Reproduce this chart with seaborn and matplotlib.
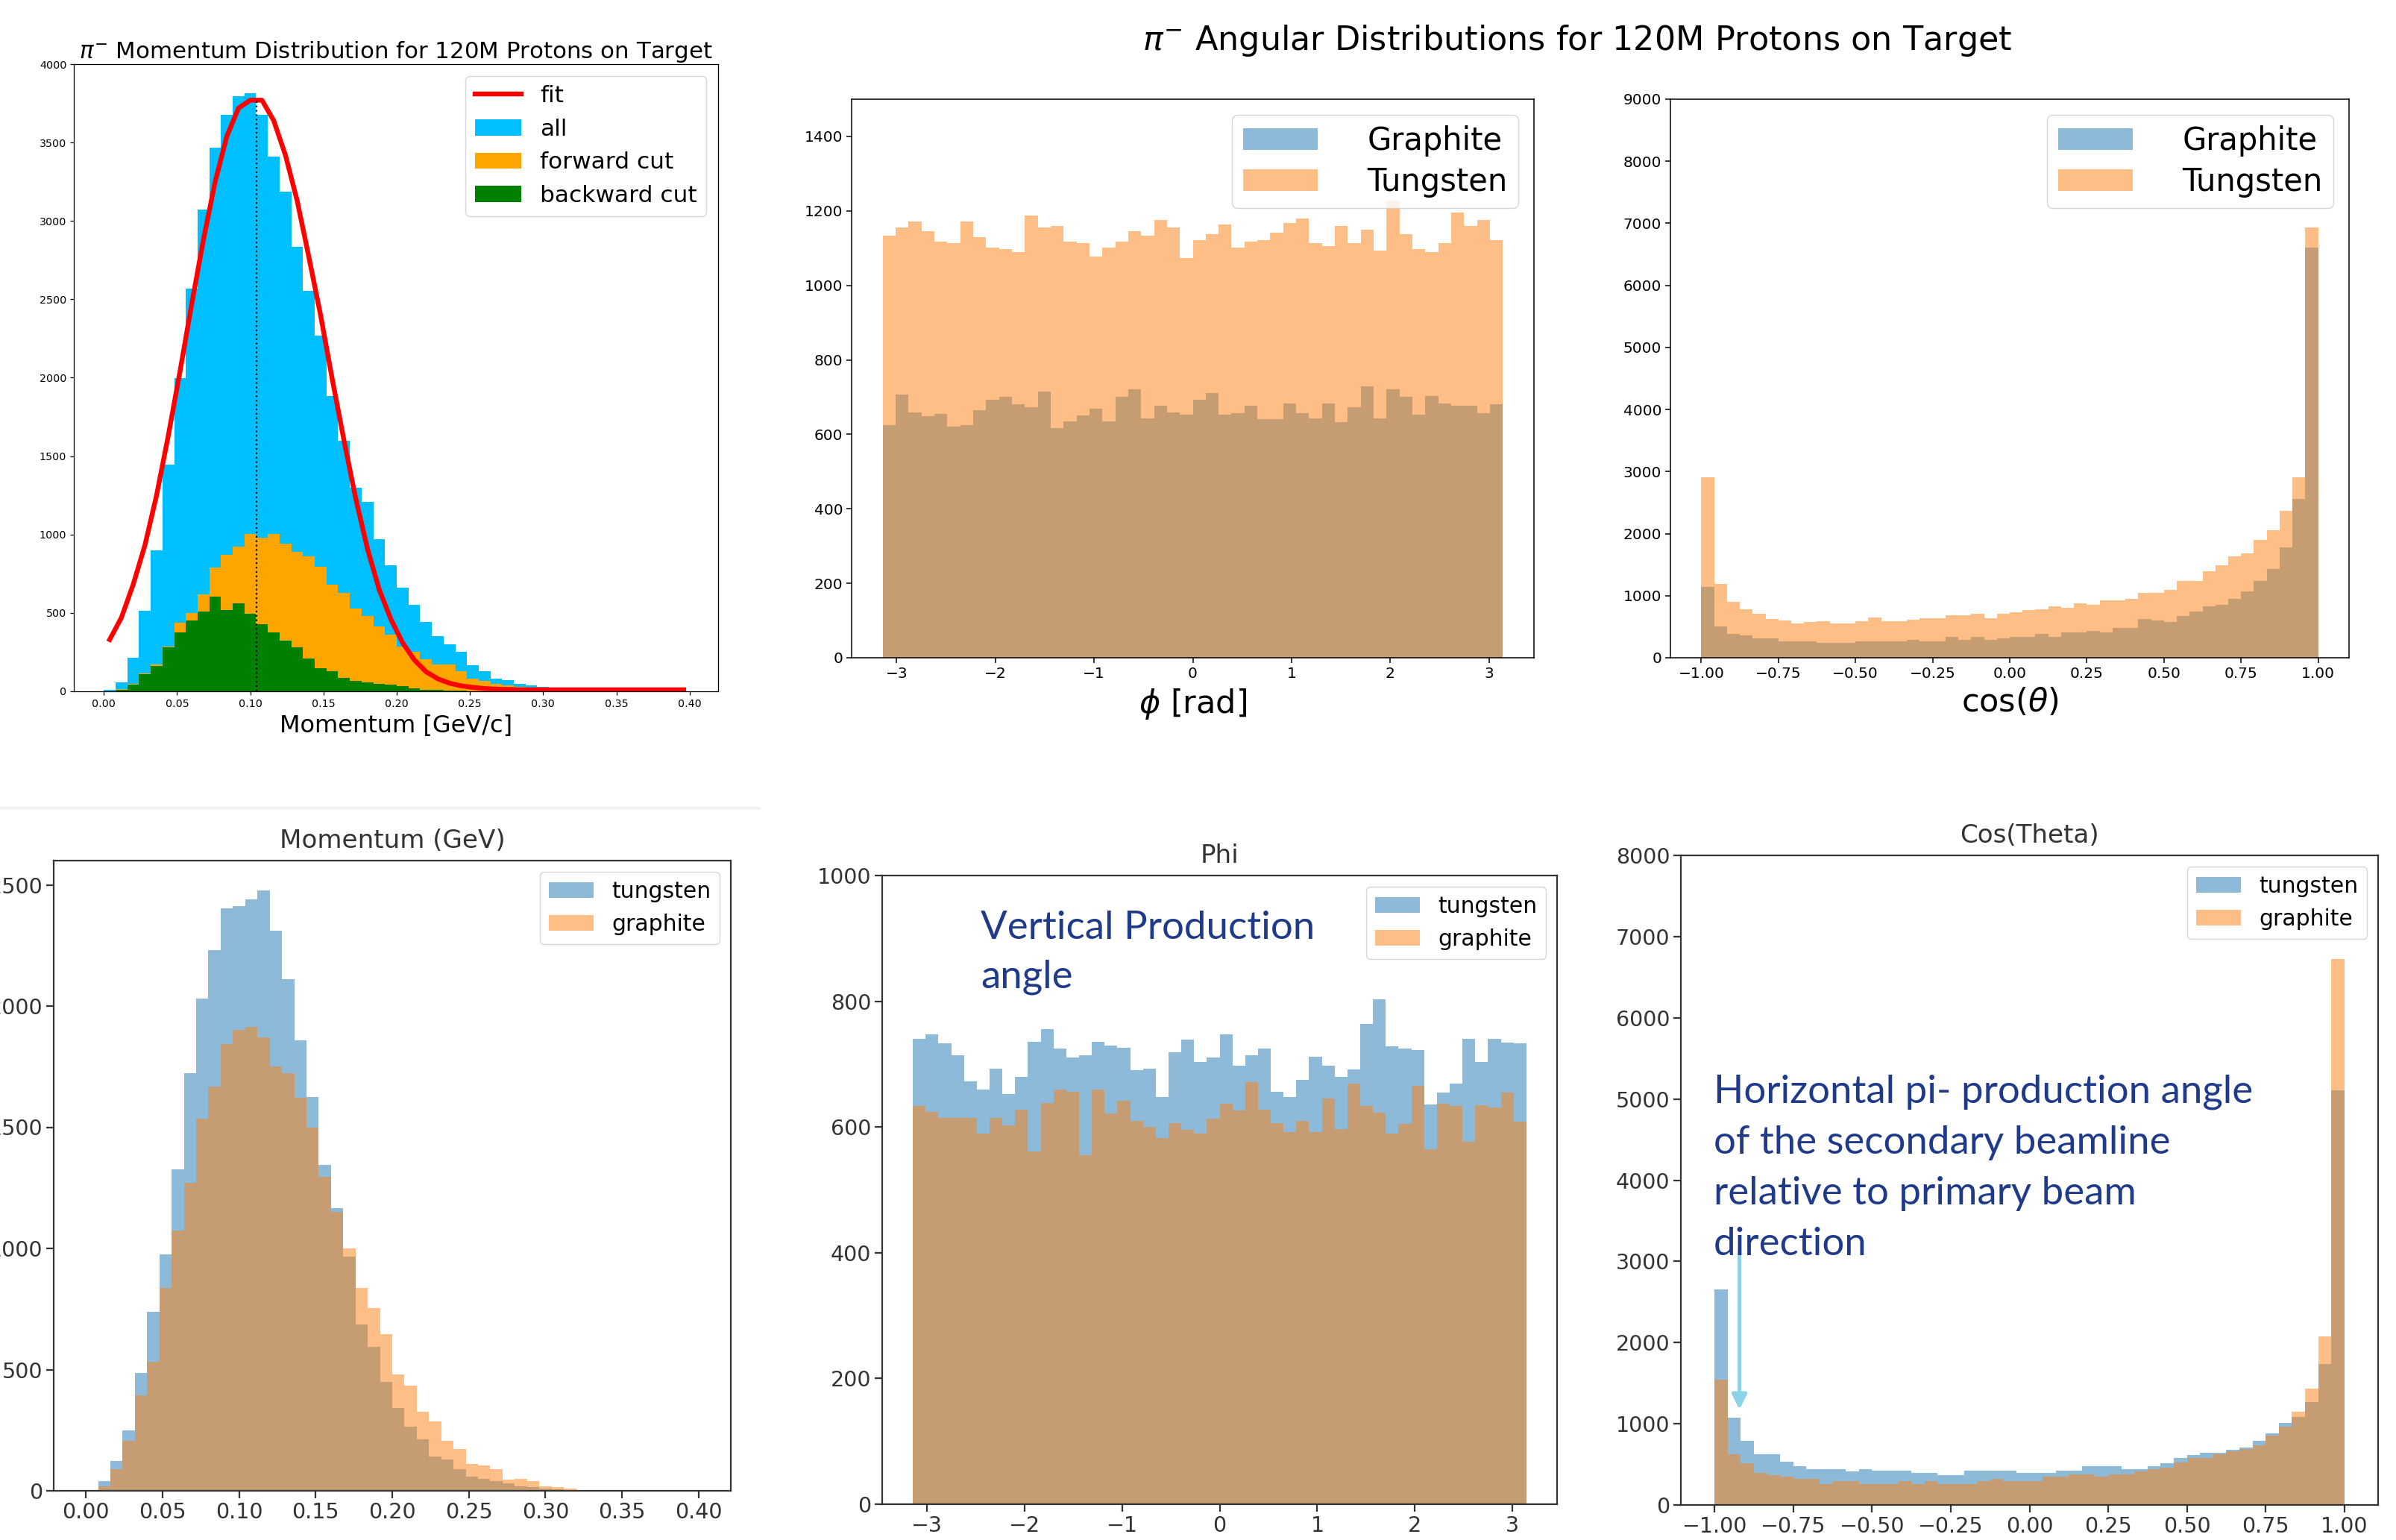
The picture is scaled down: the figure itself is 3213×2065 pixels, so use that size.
import numpy as np
import pandas as pd
import matplotlib
matplotlib.use("Agg")
import matplotlib.pyplot as plt
import seaborn as sns
from matplotlib.lines import Line2D

# ---------------- data (bin counts) ----------------
# Top-left: pi- momentum, 50 bins on [0, 0.4] GeV/c
mom_range = (0.0, 0.4)
mom_all = [10, 55, 215, 516, 898, 1445, 1997, 2570, 3074, 3469, 3678, 3794, 3815, 3678, 3408,
           3187, 2835, 2555, 2270, 1882, 1596, 1299, 1208, 971, 804, 662, 552, 444, 354, 298,
           254, 165, 127, 83, 72, 49, 36, 28, 9, 7, 5, 4, 3, 2, 2, 1, 1, 1, 0, 0]
mom_forward = [0, 15, 48, 115, 171, 285, 436, 501, 619, 790, 871, 921, 1004, 980, 1004, 944,
               891, 863, 796, 679, 627, 527, 481, 414, 363, 283, 254, 203, 171, 171, 127, 83,
               68, 47, 39, 27, 24, 18, 10, 6, 4, 2, 1, 1, 0, 0, 0, 0, 0, 0]
mom_backward = [0, 10, 45, 111, 162, 281, 376, 450, 508, 606, 519, 561, 495, 428, 378, 325,
                281, 211, 148, 127, 87, 68, 55, 47, 41, 32, 19, 11, 8, 5, 3, 2, 1, 1, 0, 0,
                0, 0, 0, 0, 0, 0, 0, 0, 0, 0, 0, 0, 0, 0]
mom_fit = [330, 470, 680, 930, 1250, 1630, 2040, 2470, 2880, 3250, 3540, 3720, 3770, 3770,
           3640, 3420, 3130, 2770, 2400, 1990, 1600, 1230, 910, 650, 460, 310, 200, 125, 80,
           52, 35, 25, 18, 14, 12, 10, 10, 10, 10, 10, 10, 10, 10, 10, 10, 10, 10, 10, 10, 10]
fit_mean = 0.1045
fit_peak = 3770

# Top-middle / top-right: angular distributions, 48 bins
phi_range = (-np.pi, np.pi)
cos_range = (-1.0, 1.0)
top_phi_graphite = [624, 707, 659, 648, 655, 620, 624, 664, 692, 700, 680, 672, 714, 616, 635,
                    650, 668, 635, 700, 720, 643, 676, 659, 652, 692, 710, 652, 656, 676, 640,
                    640, 683, 656, 643, 683, 632, 672, 728, 643, 720, 700, 652, 703, 683, 676,
                    676, 656, 680]
top_phi_tungsten = [1133, 1156, 1172, 1145, 1117, 1113, 1172, 1129, 1101, 1097, 1089, 1188, 1156,
                    1160, 1117, 1113, 1077, 1101, 1117, 1145, 1133, 1176, 1156, 1074, 1121, 1137,
                    1164, 1101, 1117, 1121, 1141, 1168, 1180, 1113, 1105, 1160, 1113, 1149, 1093,
                    1227, 1137, 1097, 1089, 1113, 1195, 1160, 1176, 1121]
top_cos_graphite = [1137, 500, 384, 360, 316, 316, 268, 268, 268, 244, 244, 244, 268, 268, 268,
                    268, 292, 268, 268, 340, 292, 340, 292, 316, 340, 340, 384, 340, 408, 408,
                    432, 408, 480, 480, 621, 597, 573, 669, 741, 833, 857, 949, 1069, 1233, 1425,
                    1778, 2558, 6611]
top_cos_tungsten = [2907, 1185, 905, 785, 713, 625, 597, 552, 573, 593, 552, 552, 593, 645, 593,
                    593, 617, 641, 641, 689, 689, 713, 641, 713, 737, 765, 785, 833, 805, 881,
                    857, 925, 925, 949, 1041, 1041, 1089, 1233, 1233, 1397, 1493, 1637, 1685,
                    1894, 2057, 2366, 2907, 6935]

# Bottom row
bot_mom_tungsten = [0, 39, 124, 250, 487, 739, 975, 1326, 1722, 2031, 2230, 2403, 2411, 2439,
                    2476, 2311, 2112, 1860, 1625, 1344, 1166, 965, 686, 595, 449, 341, 266, 213,
                    142, 128, 89, 59, 49, 39, 30, 20, 14, 10, 6, 3, 0, 0, 0, 0, 0, 0, 0, 0, 0, 0]
bot_mom_graphite = [0, 20, 89, 207, 394, 532, 837, 1074, 1271, 1535, 1669, 1842, 1901, 1913,
                    1870, 1751, 1724, 1623, 1497, 1294, 1152, 999, 837, 753, 646, 479, 433, 325,
                    286, 207, 173, 112, 104, 89, 45, 49, 39, 20, 16, 10, 0, 0, 0, 0, 0, 0, 0, 0,
                    0, 0]
bot_phi_tungsten = [740, 747, 733, 714, 673, 659, 693, 652, 680, 735, 756, 725, 711, 714, 736,
                    730, 726, 690, 693, 648, 719, 739, 703, 711, 747, 697, 714, 725, 656, 648,
                    675, 712, 697, 680, 691, 764, 803, 728, 725, 722, 636, 655, 669, 740, 704,
                    740, 734, 733]
bot_phi_graphite = [634, 624, 614, 614, 614, 590, 614, 603, 627, 561, 638, 659, 656, 555, 659,
                    621, 642, 610, 600, 582, 606, 596, 590, 613, 637, 626, 672, 627, 606, 592,
                    610, 592, 645, 597, 669, 634, 623, 589, 605, 666, 565, 637, 634, 576, 635,
                    631, 655, 609]
bot_cos_tungsten = [2654, 1071, 786, 621, 621, 535, 480, 444, 444, 444, 413, 444, 421, 421, 421,
                    398, 398, 367, 367, 421, 421, 421, 421, 398, 398, 398, 421, 421, 480, 480,
                    480, 444, 444, 474, 511, 581, 615, 645, 645, 680, 707, 789, 884, 1010, 1080,
                    1265, 1736, 5109]
bot_cos_graphite = [1539, 621, 511, 398, 367, 345, 321, 321, 254, 290, 290, 254, 254, 254, 290,
                    254, 290, 254, 254, 254, 290, 321, 290, 290, 290, 345, 345, 376, 376, 345,
                    376, 376, 413, 444, 459, 520, 581, 581, 627, 658, 688, 734, 856, 960, 1150,
                    1430, 2072, 6727]

arrow_x = -0.921
arrow_y_from, arrow_y_to = 3150, 1150

# ---------------- figure ----------------
W, H = 3213, 2065
fig = plt.figure(figsize=(W / 100, H / 100), dpi=100)
fig.patch.set_facecolor("white")

C0, C1 = "#1f77b4", "#ff7f0e"
ANN = "#1F3A8A"


def add_ax(l, t, r, b):
    return fig.add_axes([l / W, 1 - b / H, (r - l) / W, (b - t) / H])


def bin_centers(n, rng):
    edges = np.linspace(rng[0], rng[1], n + 1)
    return 0.5 * (edges[:-1] + edges[1:])


def hist(ax, counts, rng, color, alpha, label):
    df = pd.DataFrame({"x": bin_centers(len(counts), rng),
                       "w": np.asarray(counts, dtype=float)})
    sns.histplot(data=df, x="x", weights="w", bins=len(counts), binrange=rng,
                 element="step", fill=True, color=color, alpha=alpha, linewidth=0,
                 label=label, ax=ax)


def style(ax, tick_size, lw, tick_len, color="black"):
    ax.set_xlabel("")
    ax.set_ylabel("")
    for s in ax.spines.values():
        s.set_linewidth(lw)
        s.set_color(color)
    ax.tick_params(labelsize=tick_size, width=lw, length=tick_len, colors=color,
                   labelcolor=color)


# ---- Top-left: momentum with cuts ----
ax1 = add_ax(99, 86, 963, 927)
hist(ax1, mom_all, mom_range, "#00BFFF", 1.0, "all")
hist(ax1, mom_forward, mom_range, "#FFA500", 1.0, "forward cut")
hist(ax1, mom_backward, mom_range, "#008000", 1.0, "backward cut")
sns.lineplot(x=bin_centers(len(mom_fit), mom_range), y=mom_fit, color="red", linewidth=4.6,
             label="fit", ax=ax1, legend=False)
ax1.vlines(fit_mean, 0, fit_peak, colors="black", linestyles=":", linewidth=1.6)
style(ax1, 10.3, 0.9, 3.5)
ax1.set_xlim(-0.0205, 0.4195)
ax1.set_ylim(0, 4000)
ax1.set_xticks(np.arange(0, 0.401, 0.05))
ax1.set_yticks(np.arange(0, 4001, 500))
ax1.set_xlabel("Momentum [GeV/c]", fontsize=23, labelpad=5)
ax1.set_title(r"$\pi^{-}$ Momentum Distribution for 120M Protons on Target", fontsize=22.2,
              pad=6)
h, l = ax1.get_legend_handles_labels()
hd = dict(zip(l, h))
order = ["fit", "all", "forward cut", "backward cut"]
ax1.legend([hd[k] for k in order], order, loc="upper right", fontsize=22.5)

# ---- Top-middle: phi ----
TOP_LEG = dict(loc="upper right", fontsize=30, handlelength=2.4, handletextpad=1.6,
               labelspacing=0.3, borderpad=0.35)
ax2 = add_ax(1142, 133, 2057, 882)
hist(ax2, top_phi_graphite, phi_range, C0, 0.5, "Graphite")
hist(ax2, top_phi_tungsten, phi_range, C1, 0.5, "Tungsten")
style(ax2, 14.5, 1.1, 5)
ax2.set_xlim(-np.pi * 1.1, np.pi * 1.1)
ax2.set_ylim(0, 1500)
ax2.set_yticks(np.arange(0, 1401, 200))
ax2.set_xlabel(r"$\phi$ [rad]", fontsize=31, labelpad=6)
ax2.legend(**TOP_LEG)

# ---- Top-right: cos(theta) ----
ax3 = add_ax(2240, 133, 3150, 882)
hist(ax3, top_cos_graphite, cos_range, C0, 0.5, "Graphite")
hist(ax3, top_cos_tungsten, cos_range, C1, 0.5, "Tungsten")
style(ax3, 14.5, 1.1, 5)
ax3.set_xlim(-1.1, 1.1)
ax3.set_ylim(0, 9000)
ax3.set_xticks(np.arange(-1, 1.01, 0.25))
ax3.set_yticks(np.arange(0, 9001, 1000))
ax3.set_xlabel(r"cos($\theta$)", fontsize=31, labelpad=6)
ax3.legend(**TOP_LEG)

fig.text(2115 / W, 1 - 54 / H, r"$\pi^{-}$ Angular Distributions for 120M Protons on Target",
         ha="center", va="center", fontsize=32)

# ---- Bottom-left: momentum ----
GRAY = "#333333"
ax4 = add_ax(72, 1154, 980, 1999)
hist(ax4, bot_mom_tungsten, mom_range, C0, 0.5, "tungsten")
hist(ax4, bot_mom_graphite, mom_range, C1, 0.5, "graphite")
style(ax4, 20.5, 1.6, 7, GRAY)
ax4.set_xlim(-0.021, 0.421)
ax4.set_ylim(0, 2600)
ax4.set_xticks(np.arange(0, 0.401, 0.05))
ax4.set_yticks(np.arange(0, 2501, 500))
ax4.set_title("Momentum (GeV)", fontsize=24.6, color=GRAY, pad=12)
ax4.legend(loc="upper right", fontsize=21.5)

# ---- Bottom-middle: phi ----
ax5 = add_ax(1183, 1174, 2088, 2017)
hist(ax5, bot_phi_tungsten, phi_range, C0, 0.5, "tungsten")
hist(ax5, bot_phi_graphite, phi_range, C1, 0.5, "graphite")
style(ax5, 20.5, 1.6, 7, GRAY)
ax5.set_xlim(-np.pi * 1.1, np.pi * 1.1)
ax5.set_ylim(0, 1000)
ax5.set_yticks(np.arange(0, 1001, 200))
ax5.set_title("Phi", fontsize=24.6, color=GRAY, pad=12)
ax5.legend(loc="upper right", fontsize=21.5)

# ---- Bottom-right: cos(theta) ----
ax6 = add_ax(2254, 1147, 3189, 2018)
hist(ax6, bot_cos_tungsten, cos_range, C0, 0.5, "tungsten")
hist(ax6, bot_cos_graphite, cos_range, C1, 0.5, "graphite")
style(ax6, 20.5, 1.6, 7, GRAY)
ax6.set_xlim(-1.107, 1.107)
ax6.set_ylim(0, 8000)
ax6.set_xticks(np.arange(-1, 1.01, 0.25))
ax6.set_yticks(np.arange(0, 8001, 1000))
ax6.set_title("Cos(Theta)", fontsize=24.6, color=GRAY, pad=12)
ax6.legend(loc="upper right", fontsize=21.5)
ax6.annotate("", xy=(arrow_x, arrow_y_to), xytext=(arrow_x, arrow_y_from),
             arrowprops=dict(arrowstyle="-|>", color="#8CD3EA", lw=3.5, mutation_scale=30))

# ---- slide annotations ----
fig.text(1315 / W, 1 - 1221 / H, "Vertical Production\nangle", ha="left", va="top",
         fontsize=38, color=ANN, family=["Lato", "DejaVu Sans"], linespacing=1.5)
fig.text(2298 / W, 1 - 1440 / H,
         "Horizontal pi- production angle\nof the secondary beamline\n"
         "relative to primary beam\ndirection",
         ha="left", va="top", fontsize=38, color=ANN, family=["Lato", "DejaVu Sans"],
         linespacing=1.56)

# faint slide separator line
fig.add_artist(Line2D([0, 1018 / W], [1 - 1083 / H, 1 - 1083 / H], color="#f0f0f0", lw=2.5,
                      transform=fig.transFigure))

fig.savefig("out.png", dpi=100, facecolor="white")
